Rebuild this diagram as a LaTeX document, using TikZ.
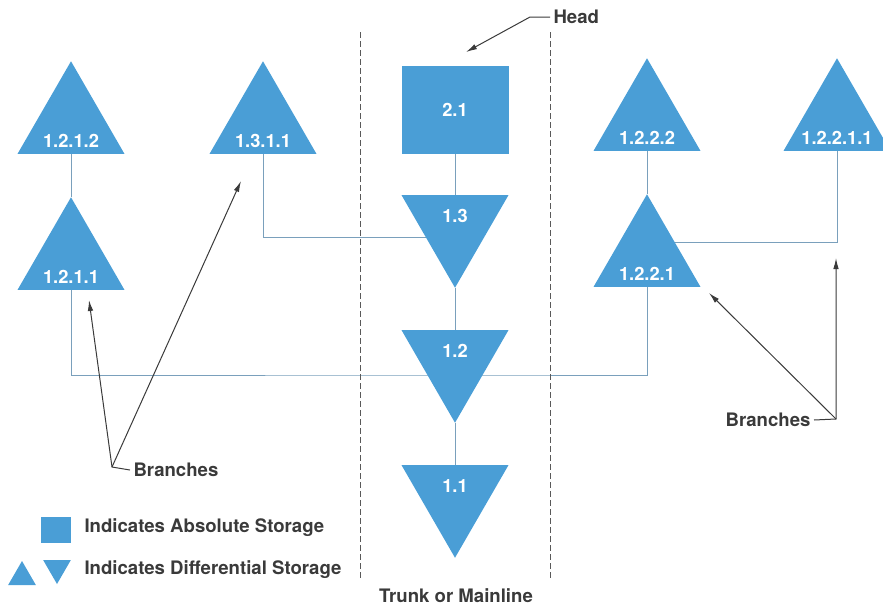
\documentclass[tikz,border=0pt]{standalone}
\usepackage{fontspec}
\setmainfont{TeX Gyre Heros}
\usetikzlibrary{shapes.geometric,arrows.meta,backgrounds,positioning}
\definecolor{storblue}{RGB}{74,158,214}
\definecolor{linkblue}{RGB}{122,160,188}
\definecolor{inkgray}{RGB}{58,58,58}

\begin{document}
\begin{tikzpicture}[x=1pt,y=-1pt,
  lbl/.style={text=white,font=\fontsize{18.3}{21}\bfseries\selectfont},
  txt/.style={text=inkgray,font=\fontsize{18.6}{21}\bfseries\selectfont},
  tri/.style={regular polygon,regular polygon sides=3,inner sep=0pt,minimum size=123.5pt,fill=storblue},
  up/.style={tri,label={[lbl,yshift=-18pt]center:#1}},
  down/.style={tri,shape border rotate=180,label={[lbl,yshift=10pt]center:#1}},
  box/.style={rectangle,fill=storblue,minimum width=107pt,minimum height=88pt,lbl},
  link/.style={draw=linkblue,line width=0.9pt},
  pointer/.style={draw=inkgray,line width=1pt,-{Latex[length=11pt,width=5.5pt]}},
  divider/.style={draw=gray!70!black,line width=0.7pt,dash pattern=on 6pt off 3pt}]
  \useasboundingbox (0,0) rectangle (883,606);

  \node[box] (n21) at (455,110) {2.1};
  \node[down=1.3] (n13) at (455,226) {};
  \node[down=1.2] (n12) at (455,361) {};
  \node[down=1.1] (n11) at (455,496) {};

  \node[up=1.2.1.2] (n1212) at (71,123) {};
  \node[up=1.2.1.1] (n1211) at (71,259) {};
  \node[up=1.3.1.1] (n1311) at (263,123) {};
  \node[up=1.2.2.2] (n1222) at (647,120) {};
  \node[up=1.2.2.1] (n1221) at (647,256) {};
  \node[up=1.2.2.1.1] (n12211) at (837,120) {};

  \begin{scope}[on background layer]
  \draw[link] (n21.south) -- (n13.north);
  \draw[link] (n13.south) -- (n12.north);
  \draw[link] (n12.south) -- (n11.north);
  \draw[link] (n1212.south) -- (n1211.north);
  \draw[link] (n1222.south) -- (n1221.north);
  \draw[link] (n1311.south) |- ([yshift=-11pt]n13.center);
  \draw[link] (n1211.south) |- ([yshift=-14pt]n12.center) -| (n1221.south);
  \draw[link] (n12211.south) |- ([yshift=14pt]n1221.center);
  \end{scope}

  \draw[divider] (360,32) -- (360,578);
  \draw[divider] (550,32) -- (550,578);

  \node[txt,anchor=west] (head) at (550,17) {Head};
  \coordinate (headtip) at (466,52);
  \draw[pointer] (head.west) -- ++(-20,0) -- (headtip);

  \node[txt,anchor=west] (brleft) at (130,470) {Branches};
  \coordinate (brleftcorner) at (112,467);
  \coordinate (tipA) at (89,300);
  \coordinate (tipB) at (241,181);
  \draw[pointer] (brleft.west) -- (brleftcorner) -- (tipA);
  \draw[pointer] (brleftcorner) -- (tipB);

  \node[txt,anchor=east] (brright) at (814,420) {Branches};
  \coordinate (brrightcorner) at (836,419);
  \coordinate (tipC) at (836,258);
  \coordinate (tipD) at (709,293);
  \draw[pointer] (brright.east) -- (brrightcorner) -- (tipC);
  \draw[pointer] (brrightcorner) -- (tipD);

  \node[box,minimum width=30pt,minimum height=26pt] (keyabs) at (56,530) {};
  \node[tri,minimum size=32pt] (keyup) at (22,577) {};
  \node[tri,shape border rotate=180,minimum size=32pt] (keydown) at (57,568) {};
  \node[txt,anchor=west] (absnote) at (81,528) {Indicates Absolute Storage};
  \node[txt,anchor=west] (diffnote) at (81,570) {Indicates Differential Storage};

  \node[txt] (trunk) at (456,596) {Trunk or Mainline};
\end{tikzpicture}
\end{document}
